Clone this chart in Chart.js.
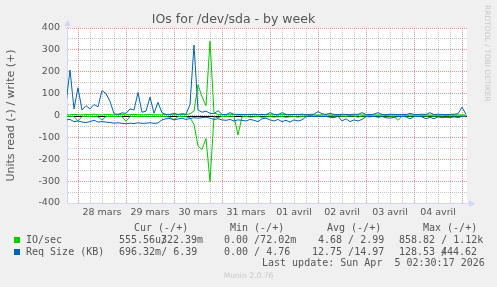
<!DOCTYPE html>
<html>
<head>
<meta charset="utf-8">
<script src="https://cdn.jsdelivr.net/npm/chart.js@4.4.1/dist/chart.umd.min.js"></script>
<style>
  body { margin: 0; background: #f0f0f0; }
  #wrap { position: relative; width: 497px; height: 287px; overflow: hidden; color: #555; }
  #ioChart { position: absolute; left: 0; top: 0; }
  .t { position: absolute; font-family: "DejaVu Sans Mono", monospace; font-size: 10px; line-height: 10px; white-space: pre; }
  .sq { position: absolute; width: 6px; height: 6px; }
  .munin { position: absolute; left: 0; width: 497px; text-align: center; top: 272px; font-family: "DejaVu Sans", sans-serif; font-size: 7.6px; line-height: 8px; color: #c8c8c8; }
  .rrd { position: absolute; left: 483px; top: 5px; writing-mode: vertical-rl; font-family: "DejaVu Sans", sans-serif; font-size: 7.5px; line-height: 8px; color: #c8c8c8; }
</style>
</head>
<body>
<div id="wrap">
  <canvas id="ioChart" width="497" height="287"></canvas>
  <div class="rrd">RRDTOOL / TOBI OETIKER</div>

  <div class="t" style="left:134px;top:223px">Cur (-/+)</div>
  <div class="t" style="left:230px;top:223px">Min (-/+)</div>
  <div class="t" style="left:327px;top:223px">Avg (-/+)</div>
  <div class="t" style="left:423px;top:223px">Max (-/+)</div>

  <div class="sq" style="left:14px;top:237px;background:#00cc00"></div>
  <div class="t" style="left:26px;top:235px">IO/sec</div>
  <div class="t" style="left:119px;top:235px">555.56u</div>
  <div class="t" style="left:161px;top:235px">/</div>
  <div class="t" style="left:161px;top:235px">322.39m</div>
  <div class="t" style="left:224px;top:235px">0.00 /72.02m</div>
  <div class="t" style="left:318px;top:235px">4.68 / 2.99</div>
  <div class="t" style="left:399px;top:235px">858.82 / 1.12k</div>

  <div class="sq" style="left:14px;top:249px;background:#0066b3"></div>
  <div class="t" style="left:26px;top:247px">Req Size (KB)</div>
  <div class="t" style="left:119px;top:247px">696.32m/ 6.39</div>
  <div class="t" style="left:224px;top:247px">0.00 / 4.76</div>
  <div class="t" style="left:312px;top:247px">12.75 /14.97</div>
  <div class="t" style="left:399px;top:247px">128.53 </div>
  <div class="t" style="left:441px;top:247px">/</div>
  <div class="t" style="left:441px;top:247px">444.62</div>

  <div class="t" style="left:262px;top:258px">Last update: Sun Apr  5 02:30:17 2026</div>
  <div class="munin">Munin 2.0.76</div>
</div>
<script>
// hours since 28 mars 00:00, one sample every 2 hours
const hours = [-6, -4, -2, 0, 2, 4, 6, 8, 10, 12, 14, 16, 18, 20, 22, 24, 26, 28, 30, 32,
  34, 36, 38, 40, 42, 44, 46, 48, 50, 52, 54, 56, 58, 60, 62, 64, 66, 68, 70, 72,
  74, 76, 78, 80, 82, 84, 86, 88, 90, 92, 94, 96, 98, 100, 102, 104, 106, 108, 110, 112,
  114, 116, 118, 120, 122, 124, 126, 128, 130, 132, 134, 136, 138, 140, 142, 144, 146, 148, 150, 152,
  154, 156, 158, 160, 162, 164, 166, 168, 170, 172, 174, 176, 178, 180, 182, 184, 186, 188, 190, 192,
  194];

const dayLabels = ['28 mars', '29 mars', '30 mars', '31 mars', '01 avril', '02 avril', '03 avril', '04 avril'];
const gridHours = [0, 6, 12, 18, 24, 30, 36, 42, 48, 54, 60, 66, 72, 78, 84, 90, 96, 102, 108, 114,
  120, 126, 132, 138, 144, 150, 156, 162, 168, 174, 180, 186, 192];
const yTicks = [-400, -350, -300, -250, -200, -150, -100, -50, 0, 50, 100, 150, 200, 250, 300, 350, 400];

// IO/sec (write +, read -)
const ioWrite = [4, 3, 5, 4, 3, 5, 4, 6, 4, 3,
  5, 4, 3, 4, 5, 3, 4, 5, 4, 3,
  4, 5, 3, 4, 3, 5, 4, 3, 4, 5,
  4, 8, 20, 140, 86, 45, 340, 12, 5, 4,
  3, 4, 5, 3, 4, 3, 5, 4, 3, 4,
  5, 3, 4, 3, 5, 4, 3, 4, 5, 3,
  3, 2, 3, 2, 3, 3, 2, 3, 2, 3,
  3, 2, 3, 2, 3, 2, 3, 3, 2, 3,
  2, 3, 3, 2, 3, 2, 3, 2, 3, 2,
  3, 2, 3, 2, 3, 2, 3, 2, 3, 3,
  2];
const ioRead = [5, 4, 5, 25, 5, 4, 5, 5, 6, 20,
  5, 4, 5, 4, 5, 27, 5, 4, 5, 4,
  5, 5, 4, 5, 4, 5, 8, 20, 5, 4,
  6, 10, 40, 140, 155, 105, 302, 6, 10, 5,
  4, 6, 5, 89, 6, 5, 7, 6, 5, 8,
  6, 5, 7, 6, 5, 8, 6, 5, 7, 5,
  3, 2, 3, 2, 3, 4, 2, 3, 2, 3,
  4, 2, 3, 8, 2, 3, 2, 3, 2, 3,
  2, 3, 4, 22, 3, 2, 3, 2, 4, 2,
  3, 2, 3, 2, 3, 2, 3, 2, 3, 2,
  3];

// Req Size (KB) (write +, read -)
const reqWrite = [55, 208, 30, 127, 25, 45, 30, 50, 40, 114,
  100, 65, 8, 5, 12, 10, 30, 25, 105, 15,
  20, 84, 10, 60, 12, 5, 5, 10, 5, 8,
  6, 50, 322, 25, 15, 20, 10, 8, 22, 5,
  4, 13, 5, 5, 4, 5, 4, 6, 4, 5,
  4, 13, 5, 4, 13, 5, 4, 5, 4, 6,
  4, 5, 6, 18, 8, 5, 10, 5, 4, 6,
  5, 4, 6, 5, 13, 5, 4, 6, 13, 5,
  4, 6, 5, 4, 5, 4, 10, 5, 4, 6,
  5, 13, 4, 6, 5, 4, 5, 6, 8, 38,
  5];
const reqRead = [20, 18, 28, 25, 30, 32, 28, 22, 30, 28,
  30, 32, 35, 33, 36, 38, 35, 37, 33, 36,
  35, 33, 36, 34, 20, 15, 14, 20, 16, 12,
  18, 14, 10, 12, 10, 8, 12, 18, 15, 20,
  22, 18, 25, 20, 22, 25, 18, 22, 28, 15,
  12, 20, 25, 18, 28, 22, 30, 20, 25, 20,
  6, 3, 5, 3, 5, 4, 8, 10, 4, 25,
  15, 28, 20, 25, 18, 5, 6, 4, 8, 5,
  10, 12, 8, 5, 4, 6, 15, 5, 4, 6,
  15, 8, 15, 6, 10, 8, 10, 6, 10, 4,
  5];

const GREEN = '#00cc00';
const BLUE = '#0066b3';
const AXIS = '#cfd6f8';
const MGRID = 'rgba(222, 79, 79, 0.6)';
const GRID = 'rgba(143, 143, 143, 0.5)';
const TXT = '#555555';

const munin = {
  id: 'munin',
  beforeDraw(chart) {
    const { ctx, chartArea: a } = chart;
    ctx.save();
    ctx.fillStyle = '#ffffff';
    ctx.fillRect(a.left, a.top, a.right - a.left, a.bottom - a.top);
    ctx.restore();
  },
  beforeDatasetsDraw(chart) {
    const { ctx, chartArea: a } = chart;
    const y0 = Math.round(chart.scales.y.getPixelForValue(0)) + 0.5;
    ctx.save();
    ctx.strokeStyle = '#000000';
    ctx.lineWidth = 1;
    ctx.beginPath();
    ctx.moveTo(a.left, y0);
    ctx.lineTo(a.right, y0);
    ctx.stroke();
    ctx.restore();
  },
  afterDraw(chart) {
    const { ctx, chartArea: a } = chart;
    ctx.save();
    ctx.fillStyle = AXIS;
    ctx.strokeStyle = AXIS;
    ctx.lineWidth = 1;
    ctx.beginPath();
    ctx.moveTo(a.left + 0.5, a.top);
    ctx.lineTo(a.left + 0.5, a.top - 4);
    ctx.moveTo(a.right, a.bottom + 0.5);
    ctx.lineTo(a.right + 4, a.bottom + 0.5);
    ctx.stroke();
    ctx.beginPath();
    ctx.moveTo(a.left - 3, a.top - 2);
    ctx.lineTo(a.left + 4, a.top - 2);
    ctx.lineTo(a.left + 0.5, a.top - 8);
    ctx.closePath();
    ctx.fill();
    ctx.beginPath();
    ctx.moveTo(a.right + 2, a.bottom - 3);
    ctx.lineTo(a.right + 2, a.bottom + 4);
    ctx.lineTo(a.right + 8, a.bottom + 0.5);
    ctx.closePath();
    ctx.fill();
    ctx.restore();
  }
};

const tickFont = { family: 'DejaVu Sans', size: 9.5 };

new Chart(document.getElementById('ioChart'), {
  type: 'line',
  data: {
    labels: hours,
    datasets: [{
      label: 'Req Size (KB) write',
      data: reqWrite,
      borderColor: BLUE,
      order: 0,
    }, {
      label: 'Req Size (KB) read',
      data: reqRead.map(v => -v),
      borderColor: BLUE,
      order: 0,
    }, {
      label: 'IO/sec write',
      data: ioWrite,
      borderColor: GREEN,
      order: 1,
    }, {
      label: 'IO/sec read',
      data: ioRead.map(v => -v),
      borderColor: GREEN,
      order: 1,
    }]
  },
  options: {
    responsive: false,
    animation: false,
    elements: {
      point: { radius: 0 },
      line: { borderWidth: 1, tension: 0 }
    },
    layout: { padding: { left: 0, right: 30, top: 0, bottom: 0 } },
    plugins: {
      legend: { display: false },
      tooltip: { enabled: false },
      title: {
        display: true,
        text: 'IOs for /dev/sda - by week',
        color: TXT,
        font: { family: 'DejaVu Sans', size: 12.5, weight: 'normal' },
        padding: { top: 12, bottom: 1 }
      }
    },
    scales: {
      x: {
        type: 'linear',
        min: -5.5,
        max: 194.5,
        afterBuildTicks: s => { s.ticks = gridHours.map(v => ({ value: v })); },
        afterFit: s => { s.height = 84; },
        grid: {
          color: c => (c.tick && c.tick.value % 24 === 0) ? MGRID : GRID,
          drawTicks: false
        },
        border: { display: true, color: AXIS, dash: [1, 1] },
        ticks: {
          autoSkip: false,
          maxRotation: 0,
          padding: 4,
          color: TXT,
          font: tickFont,
          callback: v => (v % 24 === 12) ? dayLabels[(v - 12) / 24] : ''
        }
      },
      y: {
        min: -400,
        max: 400,
        afterBuildTicks: s => { s.ticks = yTicks.map(v => ({ value: v })); },
        afterFit: s => { s.width = 67; },
        grid: {
          color: c => (c.tick && c.tick.value % 100 === 0) ? MGRID : GRID,
          drawTicks: false
        },
        border: { display: true, color: AXIS, dash: [1, 1] },
        title: {
          display: true,
          text: 'Units read (-) / write (+)',
          color: TXT,
          font: { family: 'DejaVu Sans', size: 11 },
          padding: { top: 5, bottom: 0 }
        },
        ticks: {
          autoSkip: false,
          padding: 7,
          color: TXT,
          font: tickFont,
          callback: v => (v % 100 === 0) ? String(v) : ''
        }
      }
    }
  },
  plugins: [munin]
});
</script>
</body>
</html>
